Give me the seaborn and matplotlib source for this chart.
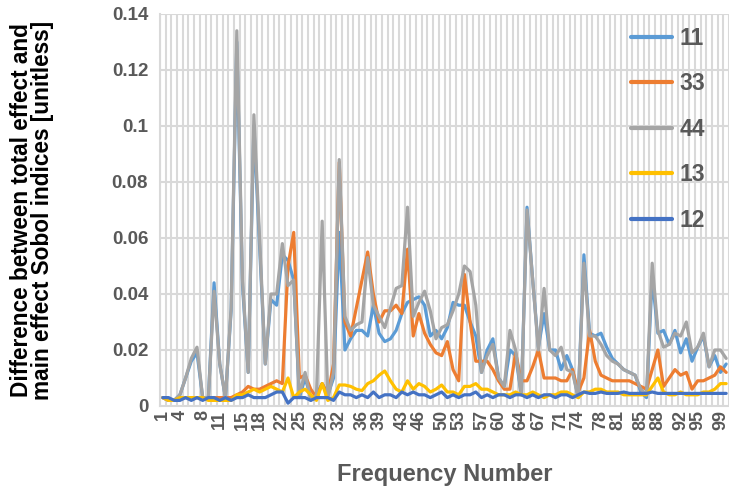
import numpy as np
import pandas as pd
import matplotlib
matplotlib.use("Agg")
import matplotlib.pyplot as plt
import seaborn as sns
from matplotlib.ticker import MultipleLocator, FixedLocator

freq = list(range(1, 101))

s11 = [0.003, 0.002, 0.002, 0.004, 0.010, 0.016, 0.019, 0.003, 0.003, 0.044,
       0.015, 0.003, 0.034, 0.130, 0.043, 0.012, 0.100, 0.057, 0.015, 0.038,
       0.036, 0.054, 0.052, 0.045, 0.003, 0.010, 0.003, 0.004, 0.008, 0.004,
       0.010, 0.062, 0.020, 0.024, 0.027, 0.027, 0.025, 0.036, 0.026, 0.023,
       0.024, 0.027, 0.033, 0.037, 0.038, 0.039, 0.036, 0.025, 0.027, 0.024,
       0.028, 0.037, 0.036, 0.036, 0.030, 0.025, 0.012, 0.020, 0.024, 0.010,
       0.007, 0.020, 0.018, 0.004, 0.071, 0.045, 0.021, 0.033, 0.020, 0.020,
       0.013, 0.018, 0.013, 0.003, 0.054, 0.026, 0.025, 0.026, 0.021, 0.017,
       0.015, 0.013, 0.012, 0.011, 0.005, 0.003, 0.046, 0.026, 0.027, 0.022,
       0.027, 0.019, 0.024, 0.016, 0.021, 0.025, 0.014, 0.018, 0.012, 0.015]

s33 = [0.003, 0.002, 0.002, 0.003, 0.003, 0.003, 0.003, 0.003, 0.003, 0.003,
       0.003, 0.003, 0.003, 0.004, 0.005, 0.007, 0.006, 0.006, 0.007, 0.008,
       0.009, 0.008, 0.050, 0.062, 0.010, 0.011, 0.006, 0.003, 0.008, 0.004,
       0.015, 0.087, 0.030, 0.025, 0.035, 0.045, 0.055, 0.040, 0.030, 0.034,
       0.034, 0.036, 0.033, 0.056, 0.025, 0.033, 0.026, 0.022, 0.019, 0.018,
       0.023, 0.013, 0.009, 0.047, 0.030, 0.016, 0.016, 0.016, 0.013, 0.009,
       0.006, 0.006, 0.019, 0.009, 0.009, 0.014, 0.020, 0.010, 0.010, 0.010,
       0.009, 0.009, 0.013, 0.005, 0.010, 0.027, 0.016, 0.011, 0.010, 0.009,
       0.009, 0.009, 0.009, 0.008, 0.007, 0.006, 0.013, 0.020, 0.007, 0.010,
       0.013, 0.011, 0.012, 0.006, 0.009, 0.009, 0.010, 0.011, 0.014, 0.012]

s44 = [0.003, 0.002, 0.002, 0.004, 0.010, 0.017, 0.021, 0.003, 0.003, 0.041,
       0.015, 0.003, 0.035, 0.134, 0.045, 0.012, 0.104, 0.060, 0.015, 0.040,
       0.040, 0.058, 0.043, 0.045, 0.004, 0.012, 0.002, 0.004, 0.066, 0.003,
       0.012, 0.088, 0.032, 0.027, 0.029, 0.030, 0.053, 0.036, 0.032, 0.028,
       0.035, 0.042, 0.043, 0.071, 0.032, 0.037, 0.041, 0.034, 0.024, 0.028,
       0.029, 0.034, 0.040, 0.050, 0.048, 0.036, 0.012, 0.018, 0.022, 0.010,
       0.007, 0.027, 0.020, 0.004, 0.070, 0.045, 0.020, 0.042, 0.020, 0.018,
       0.021, 0.013, 0.012, 0.003, 0.051, 0.025, 0.025, 0.022, 0.018, 0.016,
       0.015, 0.013, 0.012, 0.011, 0.006, 0.004, 0.051, 0.027, 0.021, 0.022,
       0.026, 0.025, 0.030, 0.019, 0.021, 0.026, 0.014, 0.020, 0.020, 0.017]

s13 = [0.003, 0.002, 0.002, 0.003, 0.003, 0.003, 0.003, 0.003, 0.002, 0.002,
       0.002, 0.002, 0.002, 0.004, 0.004, 0.005, 0.006, 0.005, 0.006, 0.007,
       0.006, 0.005, 0.010, 0.003, 0.005, 0.006, 0.004, 0.002, 0.008, 0.002,
       0.003, 0.0075, 0.0075, 0.007, 0.006, 0.0055, 0.008, 0.009, 0.011, 0.0125,
       0.009, 0.006, 0.005, 0.009, 0.006, 0.008, 0.007, 0.005, 0.006, 0.0075,
       0.005, 0.005, 0.004, 0.007, 0.007, 0.008, 0.006, 0.006, 0.005, 0.004,
       0.004, 0.004, 0.005, 0.004, 0.004, 0.005, 0.004, 0.003, 0.004, 0.004,
       0.005, 0.005, 0.004, 0.003, 0.005, 0.005, 0.006, 0.006, 0.005, 0.005,
       0.005, 0.004, 0.004, 0.004, 0.004, 0.004, 0.007, 0.010, 0.005, 0.004,
       0.004, 0.005, 0.004, 0.004, 0.004, 0.005, 0.005, 0.006, 0.008, 0.008]

s12 = [0.003, 0.003, 0.002, 0.002, 0.003, 0.002, 0.003, 0.002, 0.003, 0.003,
       0.002, 0.003, 0.002, 0.003, 0.003, 0.004, 0.003, 0.003, 0.003, 0.004,
       0.005, 0.005, 0.001, 0.003, 0.003, 0.003, 0.002, 0.003, 0.003, 0.003,
       0.002, 0.005, 0.004, 0.004, 0.003, 0.004, 0.003, 0.005, 0.003, 0.004,
       0.004, 0.003, 0.005, 0.004, 0.005, 0.004, 0.004, 0.003, 0.004, 0.005,
       0.003, 0.004, 0.003, 0.004, 0.004, 0.005, 0.003, 0.004, 0.003, 0.004,
       0.004, 0.003, 0.004, 0.004, 0.003, 0.004, 0.003, 0.004, 0.004, 0.003,
       0.004, 0.004, 0.003, 0.004, 0.005, 0.0045, 0.0045, 0.005, 0.0045, 0.0045,
       0.0045, 0.005, 0.0045, 0.0045, 0.0045, 0.0045, 0.005, 0.0045, 0.0045, 0.0045,
       0.0045, 0.0045, 0.0045, 0.0045, 0.0045, 0.0045, 0.0045, 0.0045, 0.0045, 0.0045]

series_names = ["11", "33", "44", "13", "12"]
series_colors = ["#5B9BD5", "#ED7D31", "#A5A5A5", "#FFC000", "#4472C4"]
xtick_labels = [1, 4, 8, 11, 15, 18, 22, 25, 29, 32, 36, 39, 43, 46, 50, 53,
                57, 60, 64, 67, 71, 74, 78, 81, 85, 88, 92, 95, 99]
ytick_labels = ["0", "0.02", "0.04", "0.06", "0.08", "0.1", "0.12", "0.14"]

df = pd.concat([
    pd.DataFrame({"freq": freq, "value": vals, "series": name})
    for name, vals in zip(series_names, [s11, s33, s44, s13, s12])
], ignore_index=True)

sns.set_theme(style="white")
plt.rcParams["font.family"] = ["Liberation Sans", "DejaVu Sans"]
plt.rcParams["font.weight"] = "bold"

fig = plt.figure(figsize=(7.29, 4.95), dpi=100)
ax = fig.add_axes([160 / 729, 1 - 406 / 495, 569 / 729, (406 - 14) / 495])

sns.lineplot(data=df, x="freq", y="value", hue="series", hue_order=series_names,
             palette=dict(zip(series_names, series_colors)), linewidth=2.3,
             ax=ax, legend=True)

ax.set_xlim(0.5, 100.5)
ax.set_ylim(0, 0.14)

grid_c = "#D9D9D9"
ax.xaxis.set_major_locator(FixedLocator(xtick_labels))
ax.set_xticklabels([str(v) for v in xtick_labels], rotation=90,
                   fontsize=13, fontweight="bold", color="#595959")
ax.set_yticks(np.arange(0, 0.1401, 0.02))
ax.yaxis.set_minor_locator(MultipleLocator(0.004))
ax.set_yticklabels(ytick_labels, fontsize=13.5, fontweight="bold", color="#595959")
ax.grid(False)
for xv in np.arange(0.5, 101, 1):
    ax.axvline(xv, color=grid_c, linewidth=1.5, zorder=0)
for yv in np.arange(0.02, 0.1401, 0.02):
    ax.axhline(yv, color=grid_c, linewidth=1.5, zorder=0)

ax.tick_params(axis="x", which="both", length=0, pad=3)
ax.tick_params(axis="y", which="major", length=5, direction="inout", color=grid_c, pad=6)
ax.tick_params(axis="y", which="minor", length=4, direction="in", color=grid_c, width=1)

for side in ["top", "right"]:
    ax.spines[side].set_visible(False)
for side in ["left", "bottom"]:
    ax.spines[side].set_color(grid_c)
    ax.spines[side].set_linewidth(1.5)

ax.set_xlabel("Frequency Number", fontsize=17, fontweight="bold", color="#595959")
ax.xaxis.set_label_coords(0.5, -0.145)
ax.set_ylabel("Difference between total effect and\nmain effect Sobol indices [unitless]",
              fontsize=16.3, fontweight="bold", color="black", linespacing=0.9)
ax.yaxis.set_label_coords(-0.186, 0.5)

handles, labels = ax.get_legend_handles_labels()
leg = ax.legend(handles, labels, loc="upper right", bbox_to_anchor=(0.995, 1.02),
                frameon=False, handlelength=1.8, handletextpad=0.35,
                labelspacing=0.98, prop={"weight": "bold", "size": 16.5})
for t in leg.get_texts():
    t.set_color("#595959")
    t.set_fontweight("bold")
for h in leg.get_lines():
    h.set_linewidth(3)

fig.savefig("out.png", dpi=100)
